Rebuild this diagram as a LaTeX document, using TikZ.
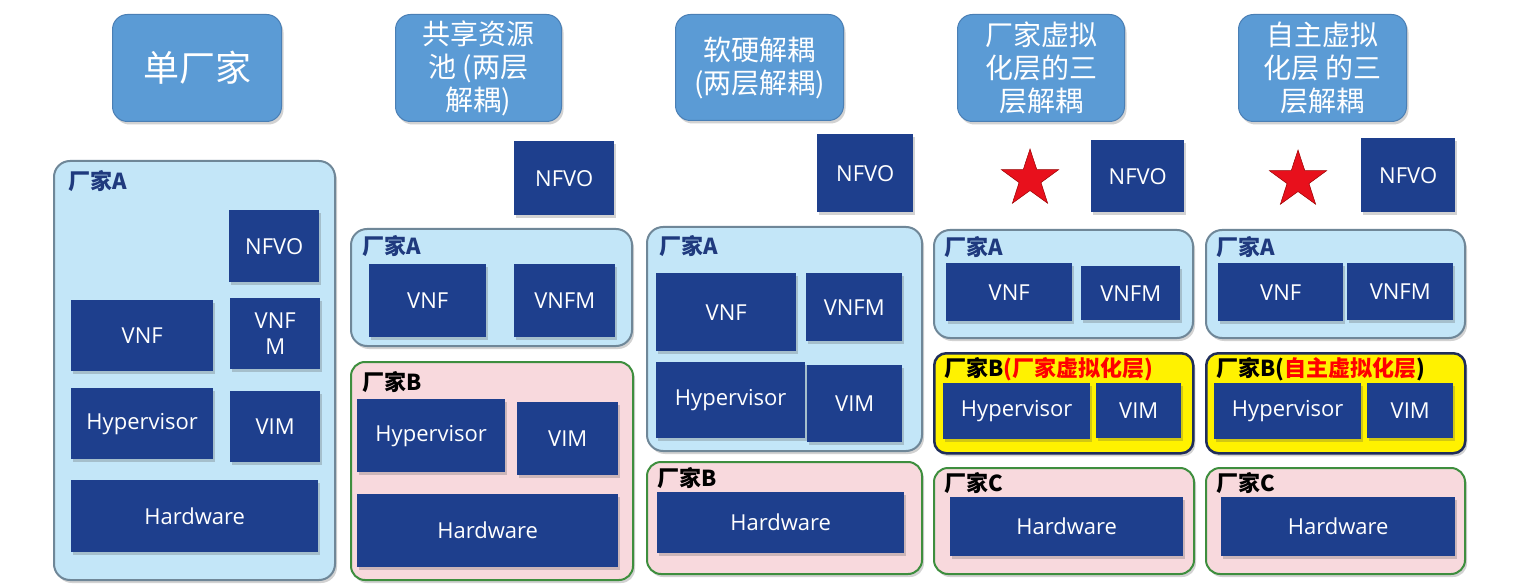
\documentclass[tikz,border=0pt]{standalone}
\usepackage{fontspec}
\setmainfont{Open Sans}
\newfontfamily\cjk{Noto Sans CJK SC}
\usepackage{xcolor}
\usetikzlibrary{positioning, shapes.geometric, shadows}

\definecolor{titlefill}{HTML}{5B9BD5}
\definecolor{titleline}{HTML}{4A7FB5}
\definecolor{navy}{HTML}{1E3F8D}
\definecolor{skyfill}{HTML}{C3E6F8}
\definecolor{skyline}{HTML}{6F8798}
\definecolor{pinkfill}{HTML}{F8D9DD}
\definecolor{greenline}{HTML}{3E8E3E}
\definecolor{yellowline}{HTML}{1F2D5A}
\definecolor{tagblue}{HTML}{1F3A7E}
\definecolor{starred}{HTML}{E8101C}

\begin{document}
\begin{tikzpicture}[x=1pt, y=-1pt,
    soft/.style={drop shadow={shadow xshift=2pt, shadow yshift=-3pt, opacity=0.25, fill=black!70}},
    title/.style={draw=titleline, line width=1pt, fill=titlefill, rounded corners=15pt, anchor=north west,
        text=white, align=center, inner sep=0pt, soft, font=\cjk\fontsize{28}{33}\selectfont},
    blk/.style={fill=navy, anchor=north west, text=white, align=center, inner sep=0pt, soft,
        font=\fontsize{22}{26}\selectfont},
    vendorA/.style={draw=skyline, line width=2pt, fill=skyfill, rounded corners=16pt, anchor=north west, soft},
    vendorB/.style={draw=greenline, line width=2pt, fill=pinkfill, rounded corners=14pt, anchor=north west, soft},
    virtlayer/.style={draw=yellowline, line width=2.5pt, fill=yellow, rounded corners=12pt, anchor=north west, soft},
    tag/.style={anchor=west, inner sep=0pt, font=\cjk\bfseries\fontsize{22}{25}\selectfont},
    redstar/.style={star, star points=5, star point ratio=2.6, fill=starred, draw=red!60!black,
        line width=0.5pt, minimum size=60pt, inner sep=0pt}]

    \useasboundingbox[fill=white] (0,0) rectangle (1520,585);

    % Column 1: single vendor
    \node[title, minimum width=169pt, minimum height=107pt, font=\cjk\fontsize{36}{40}\selectfont] (title1) at (112,14) {单厂家};
    \node[vendorA, minimum width=281pt, minimum height=419pt] (ctrA1) at (53,160) {};
    \node[tag, text=tagblue] (tagA1) at ([xshift=15pt,yshift=-21pt]ctrA1.north west) {厂家A};
    \node[blk, minimum width=90pt, minimum height=72pt] (nfvo1) at (229,210) {NFVO};
    \node[blk, minimum width=142pt, minimum height=71pt] (vnf1) at (71,300) {VNF};
    \node[blk, minimum width=90pt, minimum height=71pt] (vnfm1) at (230,298) {VNF\\M};
    \node[blk, minimum width=142pt, minimum height=71pt] (hyp1) at (71,388) {Hypervisor};
    \node[blk, minimum width=90pt, minimum height=71pt] (vim1) at (230,391) {VIM};
    \node[blk, minimum width=247pt, minimum height=72pt] (hw1) at (71,480) {Hardware};

    % Column 2: shared resource pool
    \node[title, minimum width=166pt, minimum height=107pt] (title2) at (395,14) {共享资源\\池 (两层\\解耦)};
    \node[blk, minimum width=100pt, minimum height=74pt] (nfvo2) at (514,141) {NFVO};
    \node[vendorA, minimum width=281pt, minimum height=117pt] (ctrA2) at (350,228) {};
    \node[tag, text=tagblue] (tagA2) at ([xshift=12pt,yshift=-18pt]ctrA2.north west) {厂家A};
    \node[blk, minimum width=117pt, minimum height=73pt] (vnf2) at (369,264) {VNF};
    \node[blk, minimum width=101pt, minimum height=73pt] (vnfm2) at (514,264) {VNFM};
    \node[vendorB, minimum width=282pt, minimum height=218pt] (ctrB2) at (350,361) {};
    \node[tag] (tagB2) at ([xshift=12pt,yshift=-21pt]ctrB2.north west) {厂家B};
    \node[blk, minimum width=148pt, minimum height=73pt] (hyp2) at (357,399) {Hypervisor};
    \node[blk, minimum width=101pt, minimum height=73pt] (vim2) at (517,402) {VIM};
    \node[blk, minimum width=261pt, minimum height=73pt] (hw2) at (357,494) {Hardware};

    % Column 3: software/hardware decoupling
    \node[title, minimum width=168pt, minimum height=106pt] (title3) at (675,14) {软硬解耦\\(两层解耦)};
    \node[blk, minimum width=96pt, minimum height=78pt] (nfvo3) at (817,134) {NFVO};
    \node[vendorA, minimum width=275pt, minimum height=224pt] (ctrA3) at (646,226) {};
    \node[tag, text=tagblue] (tagA3) at ([xshift=13pt,yshift=-20pt]ctrA3.north west) {厂家A};
    \node[blk, minimum width=140pt, minimum height=78pt] (vnf3) at (656,273) {VNF};
    \node[blk, minimum width=96pt, minimum height=68pt] (vnfm3) at (806,273) {VNFM};
    \node[blk, minimum width=149pt, minimum height=76pt] (hyp3) at (656,362) {Hypervisor};
    \node[blk, minimum width=95pt, minimum height=77pt] (vim3) at (807,365) {VIM};
    \node[vendorB, minimum width=275pt, minimum height=112pt] (ctrB3) at (646,461) {};
    \node[tag] (tagB3) at ([xshift=11pt,yshift=-17pt]ctrB3.north west) {厂家B};
    \node[blk, minimum width=247pt, minimum height=61pt] (hw3) at (657,492) {Hardware};

    % Column 4: vendor virtualisation layer
    \node[title, minimum width=167pt, minimum height=107pt] (title4) at (957,14) {厂家虚拟\\化层的三\\层解耦};
    \node[redstar] (star4) at (1030,179) {};
    \node[blk, minimum width=93pt, minimum height=72pt] (nfvo4) at (1091,140) {NFVO};
    \node[vendorA, minimum width=259pt, minimum height=108pt] (ctrA4) at (933,229) {};
    \node[tag, text=tagblue] (tagA4) at ([xshift=11pt,yshift=-18pt]ctrA4.north west) {厂家A};
    \node[blk, minimum width=126pt, minimum height=58pt] (vnf4) at (946,263) {VNF};
    \node[blk, minimum width=99pt, minimum height=54pt] (vnfm4) at (1081,266) {VNFM};
    \node[virtlayer, minimum width=259pt, minimum height=100pt] (ctrB4) at (933,352) {};
    \node[tag] (tagB4) at ([xshift=11pt,yshift=-17pt]ctrB4.north west) {厂家B\textcolor{red}{(厂家虚拟化层)}};
    \node[blk, minimum width=147pt, minimum height=56pt] (hyp4) at (943,383) {Hypervisor};
    \node[blk, minimum width=85pt, minimum height=55pt] (vim4) at (1096,383) {VIM};
    \node[vendorB, minimum width=260pt, minimum height=106pt] (ctrC4) at (933,467) {};
    \node[tag] (tagC4) at ([xshift=11pt,yshift=-16pt]ctrC4.north west) {厂家C};
    \node[blk, minimum width=233pt, minimum height=59pt] (hw4) at (950,497) {Hardware};

    % Column 5: own virtualisation layer
    \node[title, minimum width=168pt, minimum height=107pt] (title5) at (1238,14) {自主虚拟\\化层 的三\\层解耦};
    \node[redstar] (star5) at (1298,180) {};
    \node[blk, minimum width=94pt, minimum height=74pt] (nfvo5) at (1361,138) {NFVO};
    \node[vendorA, minimum width=259pt, minimum height=108pt] (ctrA5) at (1205,229) {};
    \node[tag, text=tagblue] (tagA5) at ([xshift=11pt,yshift=-18pt]ctrA5.north west) {厂家A};
    \node[blk, minimum width=125pt, minimum height=58pt] (vnf5) at (1218,263) {VNF};
    \node[blk, minimum width=106pt, minimum height=57pt] (vnfm5) at (1347,263) {VNFM};
    \node[virtlayer, minimum width=259pt, minimum height=100pt] (ctrB5) at (1205,352) {};
    \node[tag] (tagB5) at ([xshift=11pt,yshift=-17pt]ctrB5.north west) {厂家B(\textcolor{red}{自主虚拟化层})};
    \node[blk, minimum width=147pt, minimum height=56pt] (hyp5) at (1214,383) {Hypervisor};
    \node[blk, minimum width=86pt, minimum height=55pt] (vim5) at (1367,383) {VIM};
    \node[vendorB, minimum width=259pt, minimum height=106pt] (ctrC5) at (1205,467) {};
    \node[tag] (tagC5) at ([xshift=11pt,yshift=-16pt]ctrC5.north west) {厂家C};
    \node[blk, minimum width=234pt, minimum height=59pt] (hw5) at (1221,497) {Hardware};
\end{tikzpicture}
\end{document}
